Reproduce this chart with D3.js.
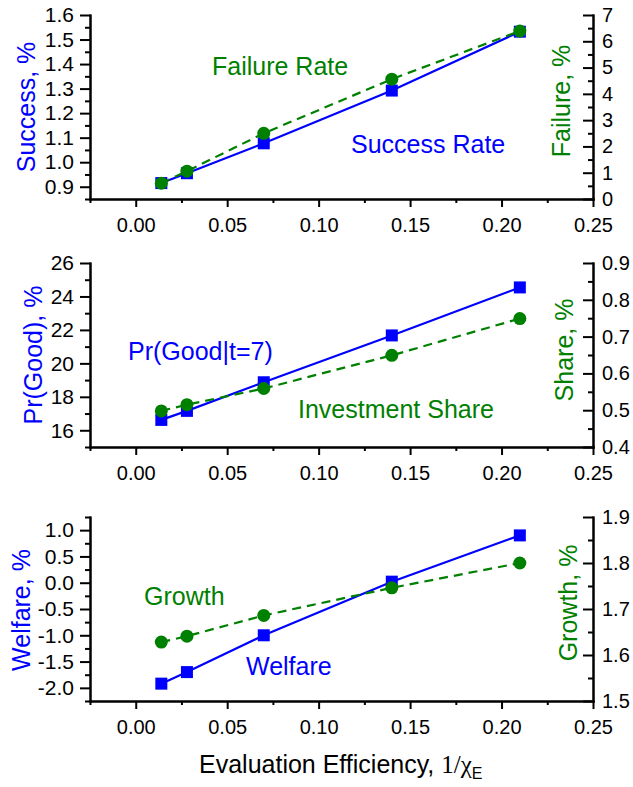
<!DOCTYPE html>
<html>
<head>
<meta charset="utf-8">
<script src="https://cdn.jsdelivr.net/npm/d3@7"></script>
<style>
  body { margin: 0; background: #fff; }
  svg { display: block; font-family: "Liberation Sans", Arial, sans-serif; }
  .axis path, .axis line { stroke: #000; stroke-width: 2px; }
</style>
</head>
<body>
<div id="chart"></div>
<script>
// shared x values: evaluation efficiency 1/chi_E
const effX = [0.014, 0.028, 0.07, 0.14, 0.21];
const xTicks = [0, 0.05, 0.10, 0.15, 0.20, 0.25];
const xMinor = [-0.025, 0.025, 0.075, 0.125, 0.175, 0.225];

// panel 1
const successRate = [0.915, 0.955, 1.077, 1.292, 1.532];
const failureRate = [0.60, 1.06, 2.50, 4.56, 6.39];
const successTicks = [0.9, 1.0, 1.1, 1.2, 1.3, 1.4, 1.5, 1.6];
const successMinor = [0.85, 0.95, 1.05, 1.15, 1.25, 1.35, 1.45, 1.55];
const failureTicks = [0, 1, 2, 3, 4, 5, 6, 7];
const failureMinor = [0.5, 1.5, 2.5, 3.5, 4.5, 5.5, 6.5];

// panel 2
const prGood = [16.62, 17.16, 18.87, 21.67, 24.54];
const investShare = [0.498, 0.515, 0.559, 0.649, 0.749];
const prGoodTicks = [16, 18, 20, 22, 24, 26];
const prGoodMinor = [15, 17, 19, 21, 23, 25];
const shareTicks = [0.4, 0.5, 0.6, 0.7, 0.8, 0.9];
const shareMinor = [0.45, 0.55, 0.65, 0.75, 0.85];

// panel 3
const welfare = [-1.92, -1.70, -1.00, 0.02, 0.90];
const growth = [1.628, 1.641, 1.686, 1.746, 1.800];
const welfareTicks = [-2.0, -1.5, -1.0, -0.5, 0.0, 0.5, 1.0];
const welfareMinor = [-2.25, -1.75, -1.25, -0.75, -0.25, 0.25, 0.75, 1.25];
const growthTicks = [1.5, 1.6, 1.7, 1.8, 1.9];
const growthMinor = [1.55, 1.65, 1.75, 1.85];

const blue = '#0000ff', green = '#008000';
const width = 633, height = 787;
const left = 90, right = 593, panelH = 184;

const svg = d3.select('#chart').append('svg')
    .attr('width', width)
    .attr('height', height);

const x = d3.scaleLinear().domain([-0.025, 0.25]).range([left, right]);

const panels = [
  {top: 15, yl: [0.85, 1.6], yr: [0, 7],
   left: successRate, right: failureRate,
   lt: successTicks, lm: successMinor, rt: failureTicks, rm: failureMinor,
   lf: d => d.toFixed(1), rf: d => d.toFixed(0),
   lTitle: 'Success, %', lTx: 35, lTy: 107,
   rTitle: 'Failure, %', rTx: 570, rTy: 101,
   labels: [
     {text: 'Failure Rate', x: 212, y: 75, c: green},
     {text: 'Success Rate', x: 351, y: 153, c: blue}]},
  {top: 263, yl: [15, 26], yr: [0.4, 0.9],
   left: prGood, right: investShare,
   lt: prGoodTicks, lm: prGoodMinor, rt: shareTicks, rm: shareMinor,
   lf: d => d.toFixed(0), rf: d => d.toFixed(1),
   lTitle: 'Pr(Good), %', lTx: 42, lTy: 355,
   rTitle: 'Share, %', rTx: 573, rTy: 350,
   labels: [
     {text: 'Pr(Good|t=7)', x: 128, y: 360, c: blue},
     {text: 'Investment Share', x: 298, y: 418, c: green}]},
  {top: 517, yl: [-2.25, 1.25], yr: [1.5, 1.9],
   left: welfare, right: growth,
   lt: welfareTicks, lm: welfareMinor, rt: growthTicks, rm: growthMinor,
   lf: d => d.toFixed(1), rf: d => d.toFixed(1),
   lTitle: 'Welfare, %', lTx: 30, lTy: 610,
   rTitle: 'Growth, %', rTx: 577, rTy: 603,
   labels: [
     {text: 'Growth', x: 144, y: 605, c: green},
     {text: 'Welfare', x: 246, y: 675, c: blue}]}
];

function styleAxis(size) {
  return sel => sel.selectAll('text')
      .attr('fill', '#000')
      .style('font-size', size + 'px')
      .style('font-family', '"Liberation Sans", Arial, sans-serif');
}

panels.forEach(p => {
  const bottom = p.top + panelH;
  const yL = d3.scaleLinear().domain(p.yl).range([bottom, p.top]);
  const yR = d3.scaleLinear().domain(p.yr).range([bottom, p.top]);
  const g = svg.append('g');

  // x axis
  g.append('g').attr('class', 'axis')
      .attr('transform', 'translate(0,' + bottom + ')')
      .call(d3.axisBottom(x).tickValues(xMinor).tickSize(4).tickSizeOuter(0).tickFormat(''));
  g.append('g').attr('class', 'axis')
      .attr('transform', 'translate(0,' + bottom + ')')
      .call(d3.axisBottom(x).tickValues(xTicks).tickSize(8).tickPadding(11).tickSizeOuter(0)
        .tickFormat(d => d.toFixed(2)))
      .call(styleAxis(20));

  // left axis
  g.append('g').attr('class', 'axis')
      .attr('transform', 'translate(' + left + ',0)')
      .call(d3.axisLeft(yL).tickValues(p.lm).tickSize(5).tickSizeOuter(0).tickFormat(''));
  g.append('g').attr('class', 'axis')
      .attr('transform', 'translate(' + left + ',0)')
      .call(d3.axisLeft(yL).tickValues(p.lt).tickSize(10).tickPadding(6).tickSizeOuter(0)
        .tickFormat(p.lf))
      .call(styleAxis(21));

  // right axis, ticks pointing inward
  g.append('g').attr('class', 'axis')
      .attr('transform', 'translate(' + right + ',0)')
      .call(d3.axisRight(yR).tickValues(p.rm).tickSize(-5).tickSizeOuter(0).tickFormat(''));
  g.append('g').attr('class', 'axis')
      .attr('transform', 'translate(' + right + ',0)')
      .call(d3.axisRight(yR).tickValues(p.rt).tickSize(-10).tickPadding(9).tickSizeOuter(0)
        .tickFormat(p.rf))
      .call(styleAxis(20));

  g.selectAll('.axis .domain').attr('stroke-linecap', 'square');

  // blue series: solid + squares
  const lineL = d3.line().x((d, i) => x(effX[i])).y(d => yL(d));
  g.append('path')
      .datum(p.left)
      .attr('d', lineL)
      .attr('fill', 'none')
      .attr('stroke', blue)
      .attr('stroke-width', 2.2);
  g.selectAll('.sq')
      .data(p.left)
    .enter()
      .append('rect')
      .attr('x', (d, i) => x(effX[i]) - 6)
      .attr('y', d => yL(d) - 6)
      .attr('width', 12)
      .attr('height', 12)
      .attr('fill', blue);

  // green series: dashed + circles
  const lineR = d3.line().x((d, i) => x(effX[i])).y(d => yR(d));
  g.append('path')
      .datum(p.right)
      .attr('d', lineR)
      .attr('fill', 'none')
      .attr('stroke', green)
      .attr('stroke-width', 2.2)
      .attr('stroke-dasharray', '9,6');
  g.selectAll('.dot')
      .data(p.right)
    .enter()
      .append('circle')
      .attr('cx', (d, i) => x(effX[i]))
      .attr('cy', d => yR(d))
      .attr('r', 6.5)
      .attr('fill', green);

  // axis titles
  g.append('text')
      .attr('transform', 'translate(' + p.lTx + ',' + p.lTy + ') rotate(-90)')
      .attr('text-anchor', 'middle')
      .style('font-size', '25px')
      .attr('fill', blue)
      .text(p.lTitle);
  g.append('text')
      .attr('transform', 'translate(' + p.rTx + ',' + p.rTy + ') rotate(-90)')
      .attr('text-anchor', 'middle')
      .style('font-size', '25px')
      .attr('fill', green)
      .text(p.rTitle);

  // in-plot labels
  g.selectAll('.lbl')
      .data(p.labels)
    .enter()
      .append('text')
      .attr('x', d => d.x)
      .attr('y', d => d.y)
      .style('font-size', '25px')
      .attr('fill', d => d.c)
      .text(d => d.text);
});

// x axis title
const xt = svg.append('text')
    .attr('x', 199)
    .attr('y', 773)
    .style('font-size', '25px')
    .attr('fill', '#000');
xt.append('tspan').text('Evaluation Efficiency, ');
xt.append('tspan').style('font-family', '"Liberation Serif", "Times New Roman", serif').text('1/\u03c7');
xt.append('tspan').attr('dy', 6).style('font-size', '16px').text('E');
</script>
</body>
</html>
